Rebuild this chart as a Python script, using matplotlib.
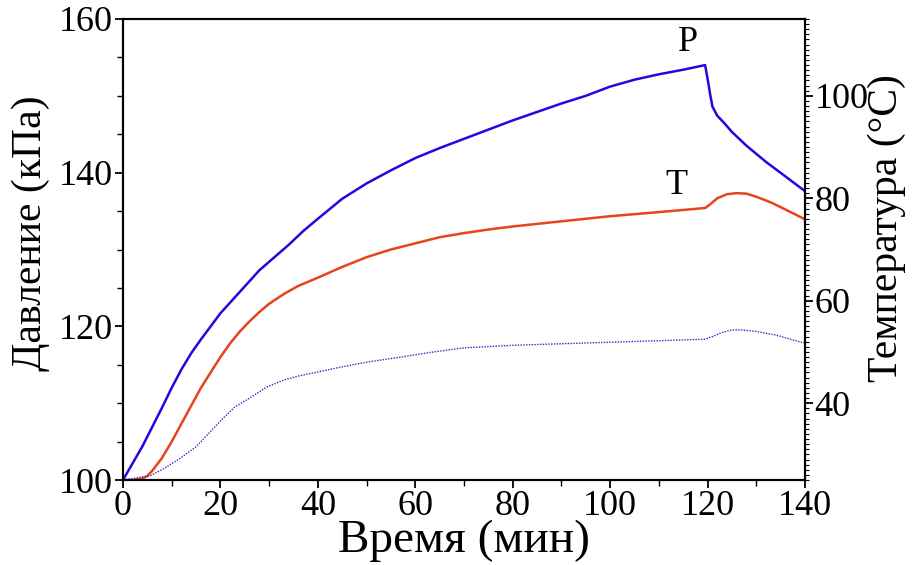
import numpy as np
import matplotlib
matplotlib.use("Agg")
import matplotlib.pyplot as plt
from matplotlib.ticker import MultipleLocator

plt.rcParams['font.family'] = ['Liberation Serif', 'DejaVu Serif']

# pressure, kPa (left axis)
t_p = [0, 2, 4, 6, 8, 10, 12, 14, 16, 18, 20, 23, 26, 28, 30, 34, 37, 40,
       45, 50, 55, 60, 65, 70, 75, 80, 85, 90, 95, 100, 105, 110, 115, 119.5,
       120.2, 120.5, 121, 122, 123.5, 125, 128, 132, 136, 140]
pressure = [100, 102.2, 104.4, 106.9, 109.4, 112.0, 114.4, 116.5, 118.3, 120.0,
            121.7, 123.8, 125.9, 127.3, 128.4, 130.6, 132.4, 134.0,
            136.6, 138.6, 140.3, 141.9, 143.2, 144.4, 145.6, 146.8, 147.9,
            149.0, 150.0, 151.2, 152.1, 152.8, 153.4, 154.0,
            151.5, 150.3, 148.6, 147.4, 146.4, 145.3, 143.5, 141.4, 139.5, 137.6]

# temperature, degC (right axis)
t_t = [0, 2, 4, 5, 6, 8, 10, 12, 14, 16, 18, 20, 22, 24, 26, 28, 30, 33, 36,
       40, 45, 50, 55, 60, 65, 70, 75, 80, 90, 100, 110, 119.5, 120.5, 122,
       124, 126, 128, 130, 133, 136, 140]
temp = [25.0, 25.0, 25.3, 25.8, 26.8, 29.3, 32.5, 36.0, 39.5, 43.0, 46.0,
        49.0, 51.7, 54.0, 56.0, 57.8, 59.4, 61.3, 62.9,
        64.5, 66.6, 68.5, 70.0, 71.2, 72.4, 73.2, 73.9, 74.5, 75.5, 76.5,
        77.3, 78.1, 78.8, 80.0, 80.8, 81.0, 80.9, 80.3, 79.2, 77.8, 75.9]

# second temperature trace, dotted
t_d = [0, 2, 4, 5.5, 8, 10, 12, 15, 18, 20.5, 23, 26, 29.6, 33, 36, 40, 45,
       50, 57, 63, 70, 80, 90, 100, 110, 119.5, 121, 123, 125, 127, 130,
       134, 137, 140]
temp2 = [25.0, 25.3, 25.6, 25.8, 27.0, 28.2, 29.4, 31.5, 34.5, 37.0, 39.3,
         41.0, 43.2, 44.5, 45.3, 46.1, 47.1, 48.0, 49.0, 49.9, 50.8, 51.3,
         51.6, 51.9, 52.2, 52.5, 53.0, 53.8, 54.3, 54.3, 54.0, 53.3, 52.5,
         51.7]

fig = plt.figure(figsize=(9.13, 5.65), dpi=100)
ax = fig.add_axes([0.1347, 0.1504, 0.747, 0.816])
ax2 = ax.twinx()

ax.plot(t_p, pressure, color='#2208e0', lw=1.8, zorder=3)
ax2.plot(t_t, temp, color='#e8441c', lw=1.8)
ax2.plot(t_d, temp2, color='#3a26c8', lw=1.0, ls=(0, (1, 1)))

ax.set_xlim(0, 140)
ax.set_ylim(100, 160)
ax2.set_ylim(25, 115)

ax.xaxis.set_major_locator(MultipleLocator(20))
ax.xaxis.set_minor_locator(MultipleLocator(10))
ax.yaxis.set_major_locator(MultipleLocator(20))
ax.yaxis.set_minor_locator(MultipleLocator(5))
ax2.yaxis.set_major_locator(MultipleLocator(20))
ax2.yaxis.set_minor_locator(MultipleLocator(1))

for a in (ax, ax2):
    for s in a.spines.values():
        s.set_linewidth(1.5)
    a.tick_params(which='major', direction='out', length=6, width=1.3,
                  labelsize=26, pad=1)
    a.tick_params(which='minor', direction='out', length=4, width=1.0)
ax2.tick_params(which='minor', length=3, width=0.8)

ax.set_xlabel("Время (мин)", fontsize=34, labelpad=-2)
ax.set_ylabel("Давление (кПа)", fontsize=30)
ax2.set_ylabel("Температура (°C)", fontsize=30)
ax.yaxis.set_label_coords(-0.107, 0.536)
ax2.yaxis.set_label_coords(1.092, 0.546)

ax.text(116, 156.9, "P", fontsize=26, ha='center', va='center')
ax.text(113.5, 138.3, "T", fontsize=26, ha='center', va='center')

fig.savefig("out.png", dpi=100)
